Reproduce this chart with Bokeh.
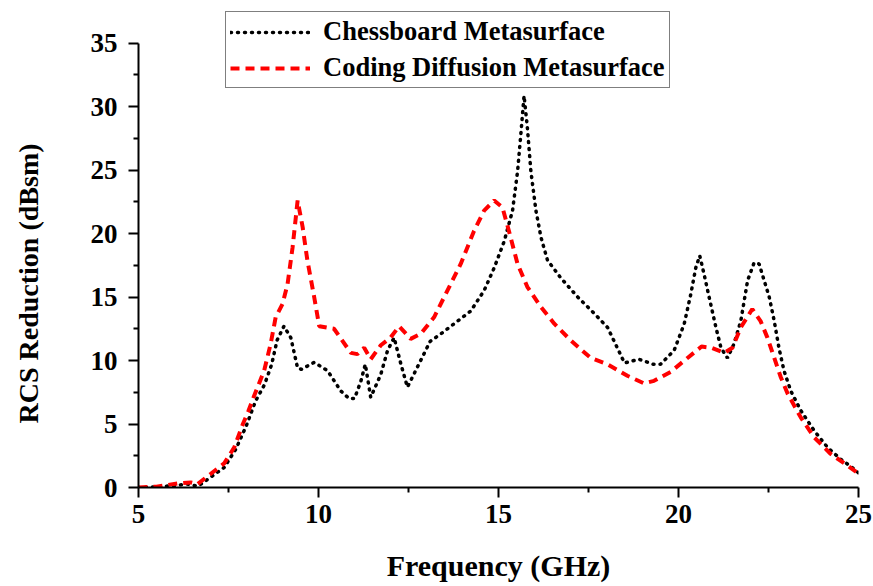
import numpy as np
from bokeh.plotting import figure
from bokeh.models import Range1d, Legend, LegendItem, Title, FixedTicker
from bokeh.embed import file_html
from bokeh.resources import INLINE

# Chessboard Metasurface (black dotted)
chess_f = [5.0, 5.5, 6.0, 6.35, 6.65, 7.0, 7.38, 7.7, 8.0, 8.25, 8.5, 8.7, 8.85, 9.04,
           9.23, 9.42, 9.52, 9.88, 10.25, 10.62, 10.85, 11.0, 11.18, 11.3, 11.45, 11.73,
           11.92, 12.1, 12.29, 12.47, 12.75, 13.1, 13.4, 13.77, 14.23, 14.6, 14.88, 15.16,
           15.39, 15.53, 15.62, 15.71, 15.8, 15.9, 16.04, 16.18, 16.36, 16.73, 17.2,
           17.66, 18.03, 18.3, 18.5, 18.9, 19.3, 19.5, 19.88, 20.16, 20.34, 20.48, 20.59,
           20.71, 20.85, 21.04, 21.18, 21.36, 21.54, 21.73, 21.92, 22.1, 22.24, 22.38,
           22.52, 22.66, 22.79, 22.93, 23.12, 23.4, 23.77, 24.14, 24.5, 24.88, 25.0]
chess_v = [0.0, 0.05, 0.15, 0.27, 0.1, 0.8, 1.58, 3.0, 4.9, 6.8, 8.1, 9.7, 11.6, 12.7,
           11.8, 9.4, 9.3, 9.85, 9.2, 7.6, 7.0, 7.0, 8.4, 9.7, 7.1, 8.9,
           10.8, 11.8, 9.7, 7.9, 9.5, 11.5, 12.1, 12.9, 13.9, 15.5, 17.3, 19.4,
           21.8, 24.9, 27.8, 30.85, 28.4, 24.9, 21.8, 19.7, 17.9, 16.5, 15.0,
           13.7, 12.6, 11.0, 9.8, 10.1, 9.7, 9.7, 10.8, 12.9, 15.2, 17.3, 18.25,
           16.8, 15.0, 12.6, 11.0, 10.2, 11.3, 13.1, 16.3, 17.7, 17.6, 16.3,
           15.0, 13.1, 11.0, 9.2, 7.6, 6.05, 4.47, 3.16, 2.24, 1.46, 1.15]

# Coding Diffusion Metasurface (red dashed)
coding_f = [5.0, 5.5, 6.08, 6.45, 6.64, 7.0, 7.38, 7.66, 7.9, 8.05, 8.21, 8.49, 8.67,
            8.81, 9.0, 9.14, 9.28, 9.42, 9.56, 9.69, 9.88, 10.02, 10.43, 10.9, 11.08,
            11.27, 11.45, 11.73, 12.0, 12.24, 12.56, 12.84, 13.21, 13.58, 13.95, 14.32,
            14.6, 14.88, 15.11, 15.29, 15.53, 15.8, 16.18, 16.55, 17.0, 17.56, 18.03,
            18.58, 19.04, 19.32, 19.78, 20.25, 20.64, 20.92, 21.27, 21.5, 21.73, 22.05,
            22.28, 22.47, 22.66, 22.84, 23.03, 23.4, 23.77, 24.23, 24.7, 25.0]
coding_v = [0.0, 0.06, 0.32, 0.4, 0.27, 1.06, 1.9, 3.16, 5.0, 6.0, 7.2, 9.2, 11.3,
            13.4, 14.45, 16.0, 18.9, 22.6, 20.5, 17.9, 15.0, 12.7, 12.5, 10.6, 10.5,
            11.0, 10.1, 11.2, 11.8, 12.7, 11.7, 12.1, 13.4, 15.5, 17.6, 20.2,
            21.8, 22.6, 22.05, 20.2, 17.6, 15.8, 14.2, 12.9, 11.6, 10.2, 9.7,
            8.8, 8.2, 8.4, 9.1, 10.2, 11.1, 11.0, 10.6, 11.0, 12.6, 14.05,
            13.1, 11.8, 10.2, 8.7, 7.4, 5.5, 3.95, 2.64, 1.72, 1.1]

x_ticks = [5, 10, 15, 20, 25]
y_ticks = [0, 5, 10, 15, 20, 25, 30, 35]
labels = ["Chessboard Metasurface", "Coding Diffusion Metasurface"]
x_title = "Frequency (GHz)"
y_title = "RCS Reduction (dBsm)"

FONT = "Liberation Serif"
FRAME_H = 477
Y_TOP = 35 + (FRAME_H - 444.5) / 12.7

p = figure(frame_width=720, frame_height=FRAME_H,
           min_border_left=138, min_border_right=15, min_border_top=10, min_border_bottom=99,
           x_range=Range1d(5, 25), y_range=Range1d(0, Y_TOP),
           output_backend="svg", toolbar_location=None,
           background_fill_color="white", border_fill_color="white")
p.outline_line_color = None
p.xgrid.visible = False
p.ygrid.visible = False

r1 = p.line(chess_f, chess_v, line_color="black", line_width=3.5, line_dash="1 6", line_cap="round")
r2 = p.line(coding_f, coding_v, line_color="#ff0000", line_width=4, line_dash="9 6")

for ax in (p.xaxis[0], p.yaxis[0]):
    ax.axis_line_width = 2
    ax.axis_line_color = "black"
    ax.major_tick_line_width = 2
    ax.minor_tick_line_width = 2
    ax.major_tick_in = 0
    ax.major_tick_out = 10
    ax.minor_tick_in = 0
    ax.minor_tick_out = 5
    ax.major_label_text_font = FONT
    ax.major_label_text_font_style = "bold"
    ax.major_label_text_font_size = "27px"
    ax.major_label_text_color = "black"

p.xaxis.ticker = FixedTicker(ticks=x_ticks, minor_ticks=[7.5, 12.5, 17.5, 22.5])
p.yaxis.ticker = FixedTicker(ticks=y_ticks, minor_ticks=[2.5, 7.5, 12.5, 17.5, 22.5, 27.5, 32.5])
p.yaxis.bounds = (0, 35)
p.xaxis.major_label_standoff = 7
p.yaxis.major_label_standoff = 11

p.xaxis.axis_label = x_title
p.xaxis.axis_label_text_font = FONT
p.xaxis.axis_label_text_font_style = "bold"
p.xaxis.axis_label_text_font_size = "30px"
p.xaxis.axis_label_text_color = "black"
p.xaxis.axis_label_standoff = 23

# spacer label to widen the y-axis panel so the title sits at the far left
p.yaxis.axis_label = " "
p.yaxis.axis_label_text_font_size = "10px"
p.yaxis.axis_label_standoff = 18

ytitle = Title(text=y_title, align="left", offset=64, vertical_align="middle",
               standoff=22, text_font=FONT, text_font_style="bold",
               text_font_size="28px", text_color="black")
p.add_layout(ytitle, "left")

legend = Legend(items=[LegendItem(label=labels[0], renderers=[r1]),
                       LegendItem(label=labels[1], renderers=[r2])],
                location=(87, 399))
legend.label_text_font = FONT
legend.label_text_font_style = "bold"
legend.label_text_font_size = "26.5px"
legend.label_text_color = "black"
legend.border_line_color = "black"
legend.border_line_width = 1
legend.background_fill_color = "white"
legend.background_fill_alpha = 1
legend.padding = 4
legend.spacing = 5
legend.margin = 0
legend.glyph_width = 80
legend.glyph_height = 20
legend.label_standoff = 13
p.add_layout(legend)

open("out.html", "w").write(file_html(p, INLINE))
